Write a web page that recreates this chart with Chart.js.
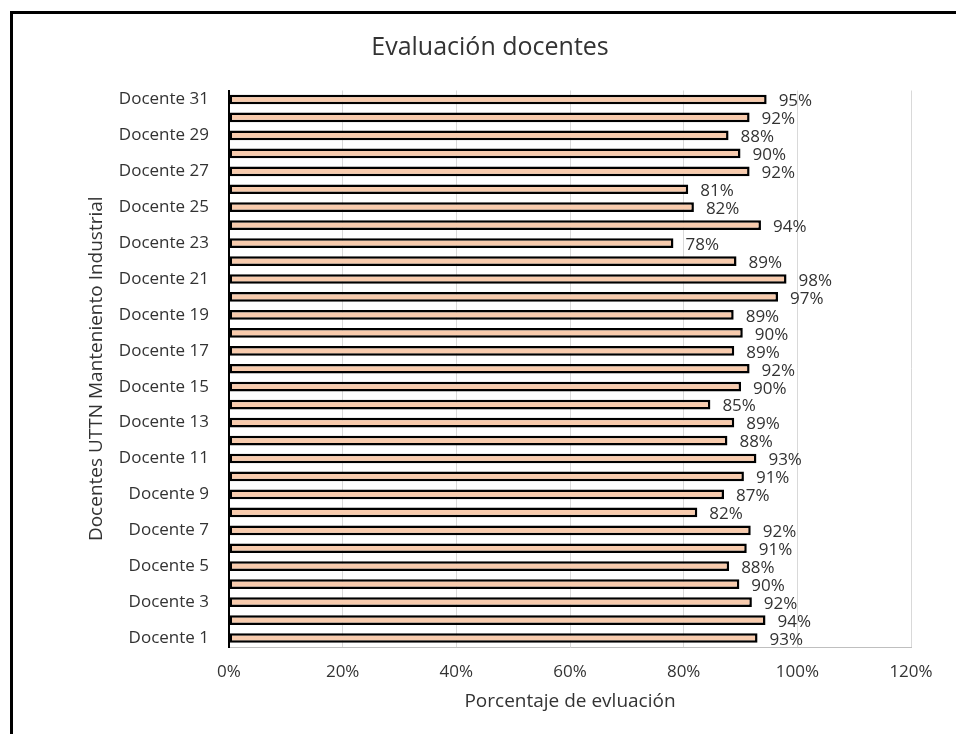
<!DOCTYPE html>
<html>
<head>
<meta charset="utf-8">
<script src="https://cdn.jsdelivr.net/npm/chart.js@4.4.1/dist/chart.umd.min.js"></script>
<style>
  html, body { margin: 0; padding: 0; background: #fff; }
  #wrap { width: 956px; height: 734px; position: relative; }
</style>
</head>
<body>
<div id="wrap"><canvas id="evalChart"></canvas></div>
<script>
// ===== Data =====
const docentes = [
  'Docente 1', 'Docente 2', 'Docente 3', 'Docente 4', 'Docente 5', 'Docente 6',
  'Docente 7', 'Docente 8', 'Docente 9', 'Docente 10', 'Docente 11', 'Docente 12',
  'Docente 13', 'Docente 14', 'Docente 15', 'Docente 16', 'Docente 17', 'Docente 18',
  'Docente 19', 'Docente 20', 'Docente 21', 'Docente 22', 'Docente 23', 'Docente 24',
  'Docente 25', 'Docente 26', 'Docente 27', 'Docente 28', 'Docente 29', 'Docente 30',
  'Docente 31'
];
const porcentajes = [
  93.0, 94.4, 92.0, 89.8, 88.0, 91.1, 91.8, 82.4, 87.1, 90.6,
  92.8, 87.7, 88.9, 84.7, 90.1, 91.6, 88.9, 90.4, 88.8, 96.6,
  98.1, 89.3, 78.2, 93.6, 81.8, 80.8, 91.6, 90.0, 87.9, 91.6,
  94.6
];
const xTicks = [0, 20, 40, 60, 80, 100, 120];

const FONT = "'Open Sans', sans-serif";
const TEXT = '#333333';

// ===== Plugins: frame + data labels =====
const framePlugin = {
  id: 'frame',
  beforeDraw(chart) {
    const ctx = chart.ctx;
    ctx.save();
    ctx.fillStyle = '#fff';
    ctx.fillRect(0, 0, chart.width, chart.height);
    ctx.fillStyle = '#000';
    ctx.fillRect(10, 11, chart.width - 10, 3);
    ctx.fillRect(10, 11, 3, chart.height - 11);
    ctx.restore();
  }
};

const valueLabels = {
  id: 'valueLabels',
  afterDatasetsDraw(chart) {
    const ctx = chart.ctx;
    const meta = chart.getDatasetMeta(0);
    ctx.save();
    ctx.font = '17px ' + FONT;
    ctx.fillStyle = TEXT;
    ctx.textAlign = 'left';
    ctx.textBaseline = 'middle';
    meta.data.forEach((bar, i) => {
      ctx.fillText(Math.round(porcentajes[i]) + '%', bar.x + 12, bar.y + 2);
    });
    ctx.restore();
  }
};

new Chart(document.getElementById('evalChart').getContext('2d'), {
  type: 'bar',
  data: {
    labels: docentes,
    datasets: [{
      data: porcentajes,
      backgroundColor: '#F8CBAD',
      borderColor: '#000',
      borderWidth: 2.5,
      borderSkipped: false,
      categoryPercentage: 1,
      barPercentage: 0.54,
    }]
  },
  options: {
    indexAxis: 'y',
    responsive: true,
    maintainAspectRatio: false,
    animation: false,
    layout: { padding: { top: 0, left: 69, right: 45, bottom: 0 } },
    plugins: {
      legend: { display: false },
      tooltip: { enabled: false },
      title: {
        display: true,
        text: 'Evaluación docentes',
        color: TEXT,
        font: { family: FONT, size: 25, weight: 'normal' },
        padding: { top: 33, bottom: 27.5 }
      }
    },
    scales: {
      x: {
        min: 0,
        max: 120,
        afterBuildTicks(scale) {
          scale.ticks = xTicks.map(v => ({ value: v }));
        },
        afterFit(scale) { scale.height = 87; },
        grid: { color: '#d9d9d9', lineWidth: 1, drawTicks: false },
        border: { color: '#bfbfbf', width: 1 },
        ticks: {
          padding: 15,
          color: TEXT,
          font: { family: FONT, size: 17 },
          callback: v => v + '%'
        },
        title: {
          display: true,
          text: 'Porcentaje de evluación',
          color: TEXT,
          font: { family: FONT, size: 19 },
          padding: { top: 0, bottom: 20.6 }
        }
      },
      y: {
        reverse: true,
        afterFit(scale) { scale.width = 160; },
        grid: { display: false, drawTicks: false },
        border: { color: '#000', width: 2 },
        ticks: {
          autoSkip: false,
          padding: 20,
          color: TEXT,
          font: { family: FONT, size: 17 },
          callback: function (value, index) {
            return index % 2 === 0 ? this.getLabelForValue(value) : '';
          }
        },
        title: {
          display: true,
          text: 'Docentes UTTN Manteniento Industrial',
          color: TEXT,
          font: { family: FONT, size: 19 },
          padding: { top: 16.6, bottom: 0 }
        }
      }
    }
  },
  plugins: [framePlugin, valueLabels]
});
</script>
</body>
</html>
